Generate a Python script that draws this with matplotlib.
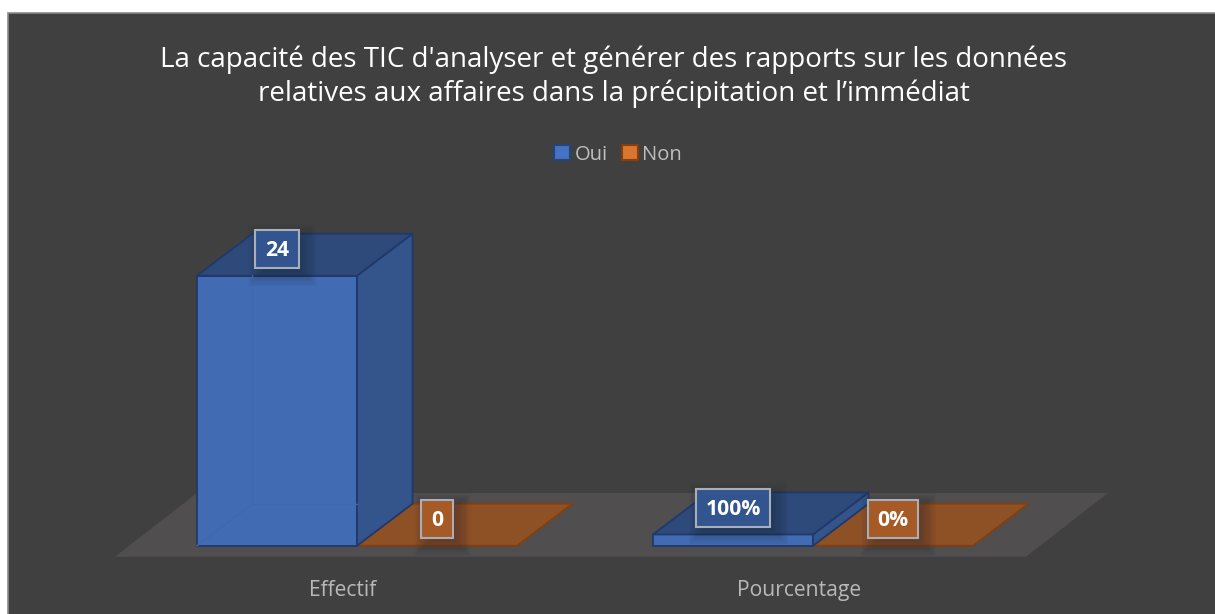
import numpy as np
import matplotlib
matplotlib.use("Agg")
import matplotlib.pyplot as plt
from matplotlib.patches import Polygon, Rectangle

title = "La capacité des TIC d'analyser et générer des rapports sur les données\nrelatives aux affaires dans la précipitation et l’immédiat"
categories = ["Effectif", "Pourcentage"]
series_names = ["Oui", "Non"]
oui_values = [24, 1]
non_values = [0, 0]
oui_labels = ["24", "100%"]
non_labels = ["0", "0%"]

W, H = 1215, 614
plt.rcParams["font.family"] = ["Open Sans", "DejaVu Sans"]
fig = plt.figure(figsize=(W / 100, H / 100), dpi=100, facecolor="white")

BG = "#404040"
fig.patches.append(Rectangle((8 / W, -0.01), 1.1, 1.01 - 13 / H, transform=fig.transFigure,
                             facecolor=BG, edgecolor="#8a8a8a", lw=1.2, zorder=-5))

# plot axes: px span x 115..1108, y 234..556.7
PXX0, PXX1, PYT, PYB = 115, 1108, 234, 556.7
ax = fig.add_axes([PXX0 / W, 1 - PYB / H, (PXX1 - PXX0) / W, (PYB - PYT) / H])
ax.patch.set_visible(False)
ppu_x, ppu_y = 456.0, 11.25
x0_px, y0_px = 357.0, 545.7
ax.set_xlim((PXX0 - x0_px) / ppu_x, (PXX1 - x0_px) / ppu_x)
ax.set_ylim((y0_px - PYB) / ppu_y, (y0_px - PYT) / ppu_y)
for s in ax.spines.values():
    s.set_visible(False)
ax.set_yticks([])

bw = 160 / ppu_x          # bar width
ddx = 55.5 / ppu_x        # depth offset
ddy = 42.0 / ppu_y


def poly(pts, fc, ec, lw=1.3, z=2, alpha=1):
    ax.add_patch(Polygon(pts, closed=True, facecolor=fc, edgecolor=ec, lw=lw, zorder=z, alpha=alpha,
                         joinstyle="round", clip_on=False))


# floor
fl = 82 / ppu_x
yf0, yf1 = (y0_px - 556.7) / ppu_y, (y0_px - 493) / ppu_y
xfl = (115 - x0_px) / ppu_x
xfr = (1026 - x0_px) / ppu_x
poly([(xfl, yf0), (xfr, yf0), (xfr + fl, yf1), (xfl + fl, yf1)], "#504e4e", "none", lw=0, z=1)

BLUE_F, BLUE_S, BLUE_T, BLUE_E = "#416bb2", "#34558c", "#2e4a7a", "#20396a"
OR_T, OR_E = "#8e5126", "#843f0c"


def shadow(xc, yc, w, h):
    # soft label shadow: stacked translucent rectangles, offset right and down
    n = 16
    for k in range(n):
        g = 15 - k * 1.2
        ax.add_patch(Rectangle((xc - w / 2 + (8 - g) / ppu_x, yc - h / 2 + (-8 + 5 - g) / ppu_y),
                               w - 5 / ppu_x + 2 * g / ppu_x, h - 5 / ppu_y + 2 * g / ppu_y,
                               facecolor="#1a2028", edgecolor="none", alpha=0.028, zorder=5, clip_on=False))


def label(xc, yc, text, fill):
    t = ax.text(xc, yc - 1.5 / ppu_y, text, ha="center", va="center", color="white", fontsize=15.2,
                fontweight="bold", zorder=8)
    r = fig.canvas.get_renderer()
    ext = t.get_window_extent(r)
    w = (ext.width + 19) / ppu_x
    h = 37.5 / ppu_y
    shadow(xc, yc, w, h)
    ax.add_patch(Rectangle((xc - w / 2, yc - h / 2), w, h, facecolor=fill, edgecolor="#a9aeb8", lw=1.5,
                           zorder=7, clip_on=False))


for i in range(len(categories)):
    x = i - bw
    h = oui_values[i]
    # Oui box
    poly([(x, 0), (x + bw, 0), (x + bw, h), (x, h)], BLUE_F, BLUE_E, z=3)
    poly([(x + bw, 0), (x + bw + ddx, ddy), (x + bw + ddx, h + ddy), (x + bw, h)], BLUE_S, BLUE_E, z=3)
    poly([(x, h), (x + bw, h), (x + bw + ddx, h + ddy), (x + ddx, h + ddy)], BLUE_T, BLUE_E, z=3)
    # faint hidden edges seen through the front face
    if h > ddy:
        ax.plot([x, x + ddx, x + ddx], [0, ddy, h], color="#3f69af", lw=1, zorder=3.1)
        ax.plot([x + ddx, x + bw], [ddy, ddy], color="#3f69af", lw=1, zorder=3.1)
    # Non plate
    x2 = i
    v = non_values[i]
    poly([(x2, v), (x2 + bw, v), (x2 + bw + ddx, v + ddy), (x2 + ddx, v + ddy)], OR_T, OR_E, z=2.5)

    lift = 5.5 / ppu_y
    label(x + bw / 2, h + ddy / 2 + lift, oui_labels[i], "#33558f")
    label(x2 + bw / 2, v + ddy / 2 + lift, non_labels[i], "#a65a26")

# category tick labels
tick_shift = -14 / ppu_x
ax.set_xticks([i + tick_shift for i in range(len(categories))])
ax.set_xticklabels(categories, color="#b8b8b8", fontsize=15.2)
ax.tick_params(axis="x", length=0, pad=17)

# title
fig.text(614 / W, 1 - 77 / H, title, ha="center", va="center", color="white", fontsize=20,
         linespacing=1.24)

# legend
handles = [Rectangle((0, 0), 1, 1, facecolor="#4472c4", edgecolor="#264478", lw=1.5),
           Rectangle((0, 0), 1, 1, facecolor="#d9762e", edgecolor="#843f0c", lw=1.5)]
leg = fig.legend(handles, series_names, loc="center", bbox_to_anchor=(618 / W, 1 - 154.5 / H), ncol=2,
                 frameon=False, fontsize=14.5, labelcolor="#bfbfbf", handlelength=0.82, handleheight=0.82,
                 handletextpad=0.22, columnspacing=0.68)

fig.savefig("out.png", dpi=100)
